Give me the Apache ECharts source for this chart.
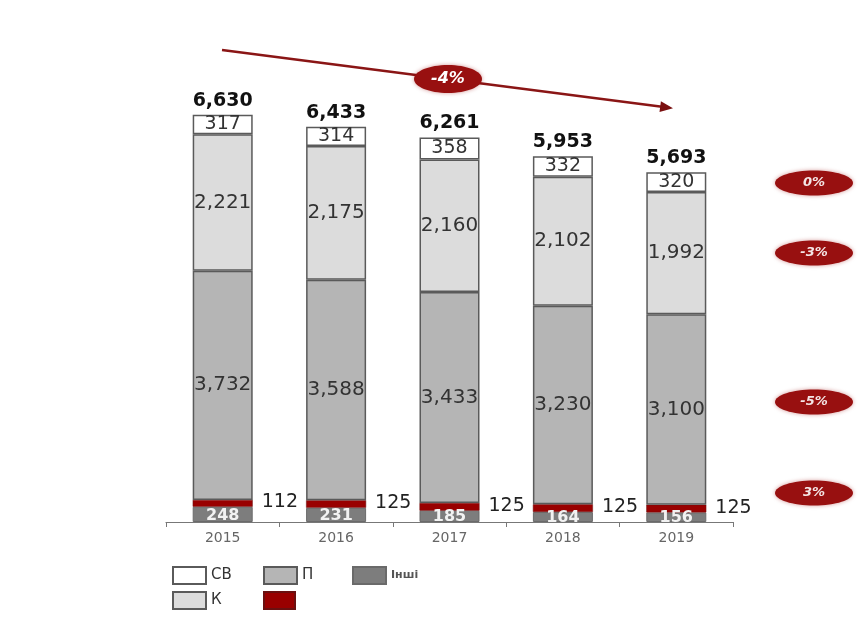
<!DOCTYPE html>
<html>
<head>
<meta charset="utf-8">
<style>
  html, body { margin: 0; padding: 0; background: #ffffff; }
  #chart { width: 860px; height: 644px; }
</style>
<script src="https://cdn.jsdelivr.net/npm/echarts@6/dist/echarts.min.js"></script>
</head>
<body>
<div id="chart"></div>
<script>
// Categories and segment values, bottom to top of each stack
const years = ['2015', '2016', '2017', '2018', '2019'];
const otherValues = [248, 231, 185, 164, 156];   // Інші
const redValues = [112, 125, 125, 125, 125];     // red strip
const pValues = [3732, 3588, 3433, 3230, 3100];  // П
const kValues = [2221, 2175, 2160, 2102, 1992];  // К
const svValues = [317, 314, 358, 332, 320];      // СВ
const totals = years.map((_, i) =>
  otherValues[i] + redValues[i] + pValues[i] + kValues[i] + svValues[i]);

// Growth annotations
const cagrText = '-4%';
const sideChanges = ['0%', '-3%', '-5%', '3%'];

const FONT = 'DejaVu Sans, Arial, sans-serif';
const fmt = v => v.toLocaleString('en-US');
const BORDER = '#5a5a5a';

const chart = echarts.init(document.getElementById('chart'));

const barBase = {
  type: 'bar',
  stack: 'total',
  barWidth: 60,
  emphasis: { disabled: true }
};

const legendBase = {
  icon: 'rect',
  itemWidth: 33,
  itemHeight: 17,
  padding: 0,
  selectedMode: false,
  textStyle: { fontSize: 15, color: '#333', fontFamily: FONT }
};

const sideY = [183, 253, 402, 493];
const graphic = [
  {
    type: 'line',
    shape: { x1: 222, y1: 50, x2: 662, y2: 106.7 },
    style: { stroke: '#8a1515', lineWidth: 2.5 },
    z: 10
  },
  {
    type: 'polygon',
    shape: { points: [[673, 108.2], [659.5, 112], [660.9, 101.3]] },
    style: { fill: '#7a1010' },
    z: 10
  },
  {
    type: 'ellipse',
    shape: { cx: 448, cy: 79, rx: 34, ry: 14 },
    style: { fill: '#981010', shadowBlur: 4, shadowColor: 'rgba(150,0,0,0.4)' },
    z: 11
  },
  {
    type: 'text',
    x: 448, y: 79,
    style: {
      text: cagrText, fill: '#fff', font: 'italic bold 16px ' + FONT,
      align: 'center', verticalAlign: 'middle'
    },
    z: 12
  }
];
sideChanges.forEach((t, i) => {
  graphic.push({
    type: 'ellipse',
    shape: { cx: 814, cy: sideY[i], rx: 39, ry: 12.5 },
    style: { fill: '#981010', shadowBlur: 4, shadowColor: 'rgba(150,0,0,0.4)' },
    z: 11
  });
  graphic.push({
    type: 'text',
    x: 814, y: sideY[i],
    style: {
      text: t, fill: '#f4e6e6', font: 'italic bold 13px ' + FONT,
      align: 'center', verticalAlign: 'middle'
    },
    z: 12
  });
});

chart.setOption({
  animation: false,
  backgroundColor: '#ffffff',
  grid: { left: 166, right: 127, top: 92, bottom: 122 },
  xAxis: {
    type: 'category',
    data: years,
    axisLine: { lineStyle: { color: '#777', width: 1.2 } },
    axisTick: { show: true, length: 5, lineStyle: { color: '#777' } },
    axisLabel: { color: '#666', fontSize: 14, fontFamily: FONT, margin: 9 }
  },
  yAxis: {
    type: 'value',
    min: 0,
    max: 7000,
    show: false,
    splitLine: { show: false }
  },
  legend: [
    Object.assign({}, legendBase, { data: ['СВ'], left: 172, top: 566 }),
    Object.assign({}, legendBase, { data: ['П'], left: 263, top: 566 }),
    Object.assign({}, legendBase, {
      data: ['Інші'], left: 352, top: 566,
      textStyle: { fontSize: 11, fontWeight: 'bold', color: '#555', fontFamily: FONT }
    }),
    Object.assign({}, legendBase, { data: ['К'], left: 172, top: 591 }),
    Object.assign({}, legendBase, {
      data: ['Червоний'], left: 263, top: 591, itemWidth: 31,
      formatter: () => ''
    })
  ],
  graphic: graphic,
  series: [
    Object.assign({}, barBase, {
      name: 'Інші',
      data: otherValues,
      itemStyle: { color: '#7d7d7d', borderColor: '#6a6a6a', borderWidth: 1 },
      label: {
        show: true, position: 'inside', formatter: p => fmt(p.value),
        color: '#f2f2f2', fontSize: 16, fontWeight: 'bold', fontFamily: FONT,
        offset: [0, 1]
      }
    }),
    Object.assign({}, barBase, {
      name: 'Червоний',
      data: redValues,
      itemStyle: { color: '#990000', borderColor: '#6a1010', borderWidth: 0.5 },
      label: {
        show: true, position: 'right', distance: 8, formatter: p => fmt(p.value),
        color: '#222', fontSize: 19, fontFamily: FONT,
        backgroundColor: '#ffffff', padding: [0, 1], offset: [0, -1]
      }
    }),
    Object.assign({}, barBase, {
      name: 'П',
      data: pValues,
      itemStyle: { color: '#b5b5b5', borderColor: BORDER, borderWidth: 1.5 },
      label: {
        show: true, position: 'inside', formatter: p => fmt(p.value),
        color: '#333', fontSize: 20, fontFamily: FONT
      }
    }),
    Object.assign({}, barBase, {
      name: 'К',
      data: kValues,
      itemStyle: { color: '#dcdcdc', borderColor: BORDER, borderWidth: 1.5 },
      label: {
        show: true, position: 'inside', formatter: p => fmt(p.value),
        color: '#333', fontSize: 20, fontFamily: FONT
      }
    }),
    Object.assign({}, barBase, {
      name: 'СВ',
      data: svValues,
      itemStyle: { color: '#ffffff', borderColor: BORDER, borderWidth: 1.5 },
      label: {
        show: true, position: 'inside', formatter: p => fmt(p.value),
        color: '#333', fontSize: 19, fontFamily: FONT
      }
    }),
    {
      name: 'Разом',
      type: 'line',
      data: totals,
      symbol: 'circle',
      symbolSize: 1,
      showSymbol: true,
      lineStyle: { width: 0, opacity: 0 },
      itemStyle: { color: '#111', opacity: 0 },
      silent: true,
      label: {
        show: true, position: 'top', distance: 4, formatter: p => fmt(p.value),
        color: '#111', opacity: 1, fontSize: 19, fontWeight: 'bold', fontFamily: FONT
      },
      z: 5
    }
  ]
});
</script>
</body>
</html>
